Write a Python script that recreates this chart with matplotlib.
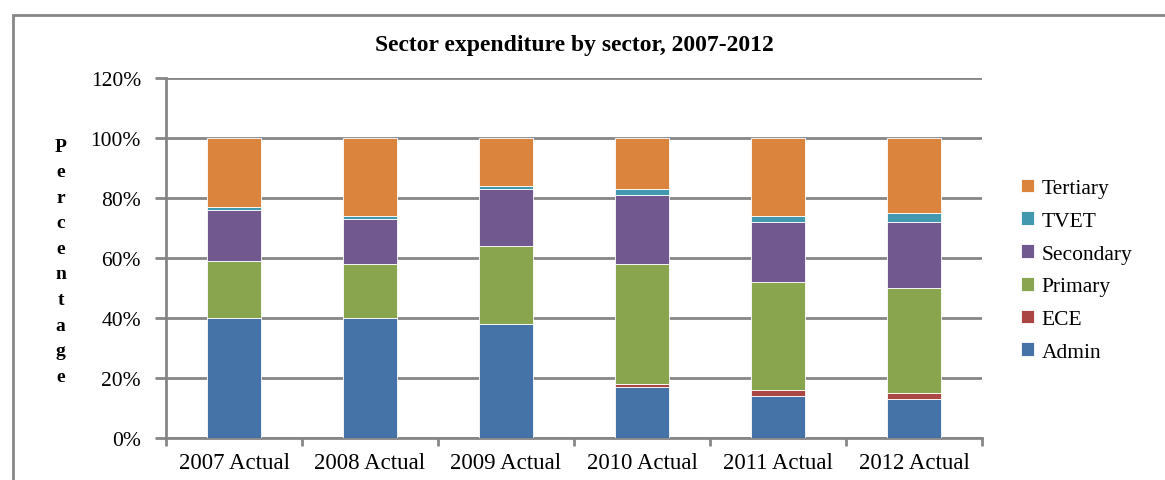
import matplotlib as mpl
import matplotlib.pyplot as plt
import numpy as np
from matplotlib.patches import Rectangle

mpl.rc('font', family='Liberation Serif')

years = ['2007 Actual', '2008 Actual', '2009 Actual', '2010 Actual', '2011 Actual', '2012 Actual']
admin = [40, 40, 38, 17, 14, 13]
ece = [0, 0, 0, 1, 2, 2]
primary = [19, 18, 26, 40, 36, 35]
secondary = [17, 15, 19, 23, 20, 22]
tvet = [1, 1, 1, 2, 2, 3]
tertiary = [23, 26, 16, 17, 26, 25]

series = [admin, ece, primary, secondary, tvet, tertiary]
names = ['Admin', 'ECE', 'Primary', 'Secondary', 'TVET', 'Tertiary']
colors = ['#4572a7', '#aa4643', '#89a54e', '#71588f', '#4198af', '#db843d']

fig = plt.figure(figsize=(11.65, 4.81), dpi=100)
ax = fig.add_axes([0.1425, 0.0873, 0.7005, 0.7485])

grey = '#868686'
x = np.arange(len(years))
bottom = np.zeros(len(years))
for vals, nm, c in zip(series, names, colors):
    ax.bar(x, vals, bottom=bottom, width=0.4, color=c, edgecolor='white',
           linewidth=0.6, label=nm, zorder=3)
    bottom += np.array(vals)

ax.set_ylim(0, 120)
ax.set_xlim(-0.5, len(years) - 0.5)
ax.set_yticks(np.arange(0, 121, 20))
ax.set_yticklabels(['%d%%' % v for v in range(0, 121, 20)], fontsize=15.5)
ax.yaxis.grid(True, color=grey, linewidth=2, zorder=0)
ax.set_axisbelow(True)

ax.set_xticks(x)
ax.set_xticklabels(years, fontsize=16.5)
ax.set_xticks(np.arange(-0.5, len(years), 1), minor=True)
ax.tick_params(axis='x', which='major', length=0, pad=10)
ax.tick_params(axis='x', which='minor', length=6, width=2, color=grey)
ax.tick_params(axis='y', length=8, width=2, color=grey, pad=10)

for s in ['top', 'right']:
    ax.spines[s].set_visible(False)
for s in ['left', 'bottom']:
    ax.spines[s].set_color(grey)
    ax.spines[s].set_linewidth(2)

ax.set_title('Sector expenditure by sector, 2007-2012', fontsize=17,
             fontweight='bold', pad=20)

fig.text(0.052, 0.455, '\n'.join('Percentage'), fontsize=14, fontweight='bold',
         ha='center', va='center', linespacing=1.66)

h, l = ax.get_legend_handles_labels()
leg = fig.legend(h[::-1], l[::-1], loc='center left', bbox_to_anchor=(0.86, 0.436),
                 frameon=False, fontsize=15.5, handlelength=0.6, handleheight=0.6,
                 handletextpad=0.35, labelspacing=0.62)

fig.patches.append(Rectangle((0.011, -0.1), 1.2, 1.066, transform=fig.transFigure,
                             fill=False, edgecolor=grey, linewidth=2))

plt.savefig('out.png', dpi=100)
